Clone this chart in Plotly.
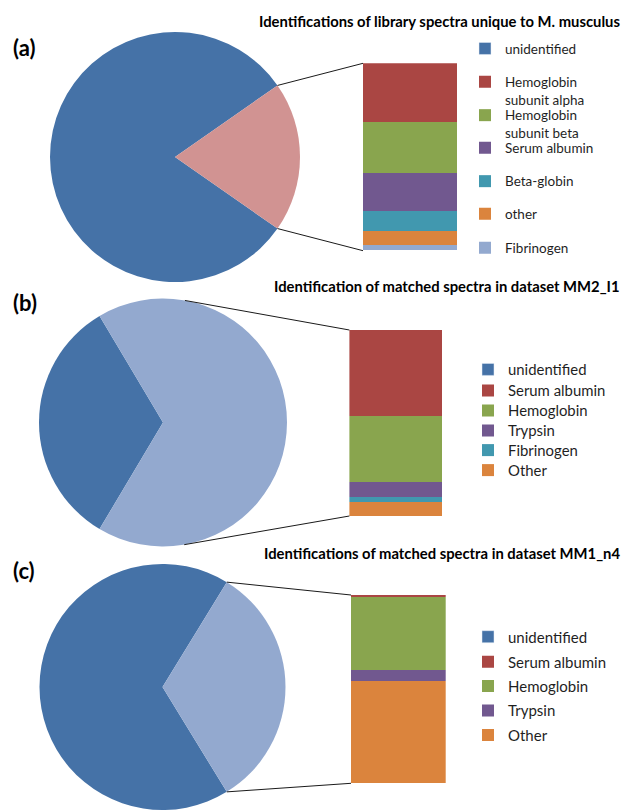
import math
import plotly.graph_objects as go

W, H = 624, 810

BLUE = "#4572A7"
RED = "#AA4643"
GREEN = "#89A54E"
PURPLE = "#71588F"
AQUA = "#4198AF"
ORANGE = "#DB843D"
LIGHTBLUE = "#93A9CF"
PINK = "#D19392"

# ---------------- data ----------------
title_a = "Identifications of library spectra unique to M. musculus"
pie_a_labels = ["unidentified", "identified"]
pie_a_values = [80.6, 19.4]
bar_a_labels = ["Hemoglobin<br>subunit alpha", "Hemoglobin<br>subunit beta", "Serum albumin",
                "Beta-globin", "other", "Fibrinogen"]
bar_a_values = [31.6, 27.3, 19.9, 10.5, 7.8, 2.8]

title_b = "Identification of matched spectra in dataset MM2_I1"
pie_b_labels = ["unidentified", "identified"]
pie_b_values = [32.9, 67.1]
bar_b_labels = ["Serum albumin", "Hemoglobin", "Trypsin", "Fibrinogen", "Other"]
bar_b_values = [46.2, 35.3, 8.2, 2.5, 7.7]

title_c = "Identifications of matched spectra in dataset MM1_n4"
pie_c_labels = ["unidentified", "identified"]
pie_c_values = [67.5, 32.5]
bar_c_labels = ["Serum albumin", "Hemoglobin", "Trypsin", "Other"]
bar_c_values = [1.2, 38.6, 5.7, 54.5]

# ---------------- styling / layout (pixels) ----------------
bar_a_colors = [RED, GREEN, PURPLE, AQUA, ORANGE, LIGHTBLUE]
bar_b_colors = [RED, GREEN, PURPLE, AQUA, ORANGE]
bar_c_colors = [RED, GREEN, PURPLE, ORANGE]

FONT = "Lato"
TXT = "#1f1f1f"


def px_x(x):
    return x / W


def px_y(y):
    return 1 - y / H


panels = [
    dict(tag="(a)", tag_y=48, title=title_a, title_y=21,
         pie_labels=pie_a_labels, pie_values=pie_a_values, pie_colors=[BLUE, PINK],
         cx=175, cy=157, r=125,
         bar_labels=bar_a_labels, bar_values=bar_a_values, bar_colors=bar_a_colors,
         bx=(363, 457), by=(63.3, 250.7),
         leg_font=13.5, leg_x=505, leg_y=[49, 82.3, 115.7, 148.3, 181.7, 214.3, 248.3]),
    dict(tag="(b)", tag_y=303, title=title_b, title_y=286,
         pie_labels=pie_b_labels, pie_values=pie_b_values, pie_colors=[BLUE, LIGHTBLUE],
         cx=163, cy=422.5, r=124,
         bar_labels=bar_b_labels, bar_values=bar_b_values, bar_colors=bar_b_colors,
         bx=(349.4, 442.5), by=(330, 516),
         leg_font=14.9, leg_x=508, leg_y=[370, 391, 411, 431, 450.7, 470.7]),
    dict(tag="(c)", tag_y=570, title=title_c, title_y=553,
         pie_labels=pie_c_labels, pie_values=pie_c_values, pie_colors=[BLUE, LIGHTBLUE],
         cx=162.5, cy=687, r=123,
         bar_labels=bar_c_labels, bar_values=bar_c_values, bar_colors=bar_c_colors,
         bx=(351, 445.7), by=(595, 783.3),
         leg_font=15.0, leg_x=508, leg_y=[637.3, 662.3, 686.7, 711, 735.7]),
]

fig = go.Figure()
shapes = []
annotations = []
layout_axes = {}
legends = {}
leg_counter = [0]


def new_legend(text, first_center, f, text_x):
    """One legend box per entry so that entries sit where the reference has them."""
    leg_counter[0] += 1
    key = "legend" if leg_counter[0] == 1 else "legend%d" % leg_counter[0]
    nlines = text.count("<br>") + 1
    lh = 1.3 * f
    h = max(lh * nlines, 16) + 3
    first_off = -lh * ((nlines - 1) / 2 - 0.3) - 0.35 * f
    center = first_center - first_off
    top = center - 5 - h / 2
    legends[key] = dict(x=px_x(text_x - 40), y=px_y(top), xanchor="left", yanchor="top",
                        bgcolor="rgba(0,0,0,0)", borderwidth=0, valign="top",
                        traceorder="normal", font=dict(family=FONT, size=f, color=TXT))
    return key


for pi, p in enumerate(panels):
    k = "" if pi == 0 else str(pi + 1)
    xa, ya = "x" + k, "y" + k
    # pie
    tot = sum(p["pie_values"])
    u_deg = 360 * p["pie_values"][0] / tot
    i_deg = 360 * p["pie_values"][1] / tot
    rot = (90 - u_deg - i_deg / 2) % 360
    cx, cy, r = p["cx"], p["cy"], p["r"]
    fig.add_trace(go.Pie(
        labels=p["pie_labels"], values=p["pie_values"], sort=False,
        direction="clockwise", rotation=rot, textinfo="none",
        marker=dict(colors=p["pie_colors"], line=dict(width=0)),
        domain=dict(x=[px_x(cx - r), px_x(cx + r)], y=[px_y(cy + r), px_y(cy - r)]),
        showlegend=False, hoverinfo="label+percent",
    ))

    names = [p["pie_labels"][0]] + p["bar_labels"]
    leg_keys = [new_legend(nm, p["leg_y"][j], p["leg_font"], p["leg_x"]) for j, nm in enumerate(names)]

    # legend-only entry for the unidentified pie slice
    fig.add_trace(go.Bar(
        x=[None], y=[None], name=p["pie_labels"][0], marker=dict(color=p["pie_colors"][0]),
        xaxis=xa, yaxis=ya, legend=leg_keys[0], hoverinfo="skip",
    ))
    # stacked bar: bottom segment first
    n = len(p["bar_labels"])
    for j in reversed(range(n)):
        fig.add_trace(go.Bar(
            x=[0], y=[p["bar_values"][j]], width=1, name=p["bar_labels"][j],
            marker=dict(color=p["bar_colors"][j], line=dict(width=0)),
            xaxis=xa, yaxis=ya, legend=leg_keys[j + 1],
            hovertemplate=p["bar_labels"][j].replace("<br>", " ") + ": %{y}<extra></extra>",
        ))

    layout_axes["xaxis" + k] = dict(domain=[px_x(p["bx"][0]), px_x(p["bx"][1])], range=[-0.5, 0.5],
                                    visible=False, fixedrange=True)
    layout_axes["yaxis" + k] = dict(domain=[px_y(p["by"][1]), px_y(p["by"][0])],
                                    range=[0, sum(p["bar_values"])], visible=False, fixedrange=True)

    # connector lines (slice edges, or tangents when the split slice exceeds a half circle)
    bx0 = p["bx"][0]
    top_c = (bx0, p["by"][0])
    bot_c = (bx0, p["by"][1])
    if i_deg <= 180:
        t1 = math.radians(90 - i_deg / 2)
        t2 = math.radians(90 + i_deg / 2)
        e1 = (cx + r * math.sin(t1), cy - r * math.cos(t1))
        e2 = (cx + r * math.sin(t2), cy - r * math.cos(t2))
    else:
        def tangent(P, upper):
            dx, dy = P[0] - cx, P[1] - cy
            D = math.hypot(dx, dy)
            phi = math.atan2(dy, dx)
            a = math.acos(r / D)
            al = phi - a if upper else phi + a
            return (cx + r * math.cos(al), cy + r * math.sin(al))
        e1 = tangent(top_c, True)
        e2 = tangent(bot_c, False)
    for e, c in ((e1, top_c), (e2, bot_c)):
        shapes.append(dict(type="line", xref="paper", yref="paper",
                           x0=px_x(e[0]), y0=px_y(e[1]), x1=px_x(c[0]), y1=px_y(c[1]),
                           line=dict(color="#1a1a1a", width=1)))

    # texts
    annotations.append(dict(text=p["title"], xref="paper", yref="paper", x=px_x(622), y=px_y(p["title_y"]),
                            xanchor="right", yanchor="middle", showarrow=False,
                            font=dict(family=FONT, size=14.8, color="#000000", weight="bold")))
    annotations.append(dict(text=p["tag"], xref="paper", yref="paper", x=px_x(11), y=px_y(p["tag_y"]),
                            xanchor="left", yanchor="middle", showarrow=False,
                            font=dict(family=FONT, size=22, color="#000000", weight="bold")))

fig.update_layout(
    width=W, height=H, autosize=False,
    margin=dict(l=0, r=0, t=0, b=0),
    paper_bgcolor="white", plot_bgcolor="rgba(0,0,0,0)",
    barmode="stack", bargap=0,
    shapes=shapes, annotations=annotations,
    font=dict(family=FONT, color=TXT),
    **layout_axes, **legends,
)

fig.write_html("out.html", config={"displayModeBar": False},
               post_script="document.body.style.margin='0';")
